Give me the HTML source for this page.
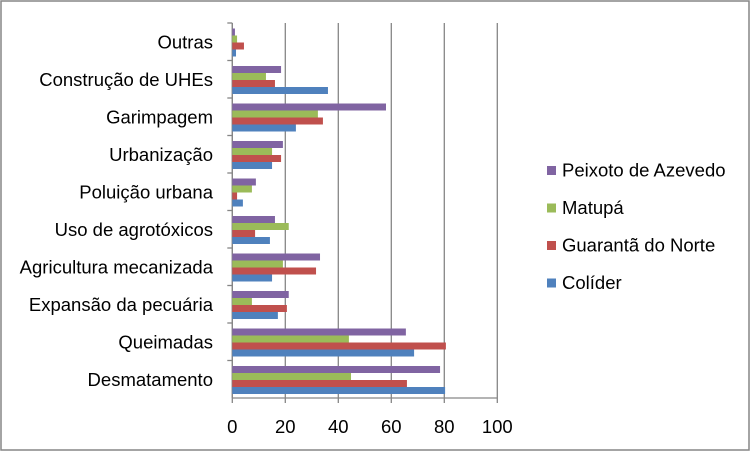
<!DOCTYPE html>
<html><head><meta charset="utf-8"><style>
body{margin:0;background:#fff;}
svg{display:block;font-family:"Liberation Sans",sans-serif;}
</style></head><body>
<svg id="c" width="752" height="452">
<rect x="1" y="1" width="748" height="449" fill="#fff" stroke="#868686" stroke-width="1.5"/>
</svg>
<script>
const categories=["Outras","Construção de UHEs","Garimpagem","Urbanização","Poluição urbana","Uso de agrotóxicos","Agricultura mecanizada","Expansão da pecuária","Queimadas","Desmatamento"];
const seriesNames=["Peixoto de Azevedo","Matupá","Guarantã do Norte","Colíder"];
const peixoto=[1,18.4,58,19.1,8.9,16.1,33.1,21.3,65.5,78.4];
const matupa=[1.8,12.7,32.3,15,7.4,21.3,19.1,7.4,44,44.8];
const guaranta=[4.4,16.1,34.2,18.4,1.8,8.6,31.6,20.6,80.6,65.9];
const colider=[1.4,36.1,24,15,4,14.2,15,17.2,68.6,80.3];
const ticks=[0,20,40,60,80,100];
const colors=["#8064A2","#9BBB59","#C0504D","#4F81BD"];
const seriesData=[peixoto,matupa,guaranta,colider];
const svgEl=document.getElementById('c');
const NS="http://www.w3.org/2000/svg";
const x0=232.3,x1=497.3,plotTop=23,plotBottom=398;
const xs=v=>x0+(v/100)*(x1-x0);
const band=(plotBottom-plotTop)/categories.length;
function mk(t,a){const e=document.createElementNS(NS,t);for(const k in a)e.setAttribute(k,a[k]);svgEl.appendChild(e);return e;}
ticks.forEach(t=>{
  const g=mk('line',{x1:xs(t),x2:xs(t),y1:plotTop,y2:plotBottom+5,stroke:'#868686','stroke-width':1.3});
  
  
  const l=mk('text',{x:xs(t),y:433,'text-anchor':'middle','font-size':18.5,fill:'#000'});
  l.textContent=t;
  
  
});
const ax=mk('line',{x1:x0,x2:x1,y1:plotBottom,y2:plotBottom,stroke:'#868686','stroke-width':1.3});


const ay=mk('line',{x1:x0,x2:x0,y1:plotTop,y2:plotBottom,stroke:'#868686','stroke-width':1.3});


categories.forEach((c,i)=>{
  const ct=plotTop+i*band;
  const tk=mk('line',{x1:x0-5,x2:x0,y1:ct,y2:ct,stroke:'#868686','stroke-width':1.3});
  
  
  const l=mk('text',{x:213,y:ct+band/2+6.5,'text-anchor':'end','font-size':18.5,fill:'#000'});
  l.textContent=c;
  
  
  seriesData.forEach((d,s)=>{
    const r=mk('rect',{x:x0,y:ct+5.5+s*7,width:xs(d[i])-x0,height:7,fill:colors[s]});
    
    
  });
});
seriesNames.forEach((n,s)=>{
  const y=170+s*37.5;
  const r=mk('rect',{x:547,y:y-4,width:9,height:9,fill:colors[s]});
  
  
  const t=mk('text',{x:562,y:y+6.5,'font-size':18.5,fill:'#000'});
  t.textContent=n;
  
  
});
</script>
</body></html>
